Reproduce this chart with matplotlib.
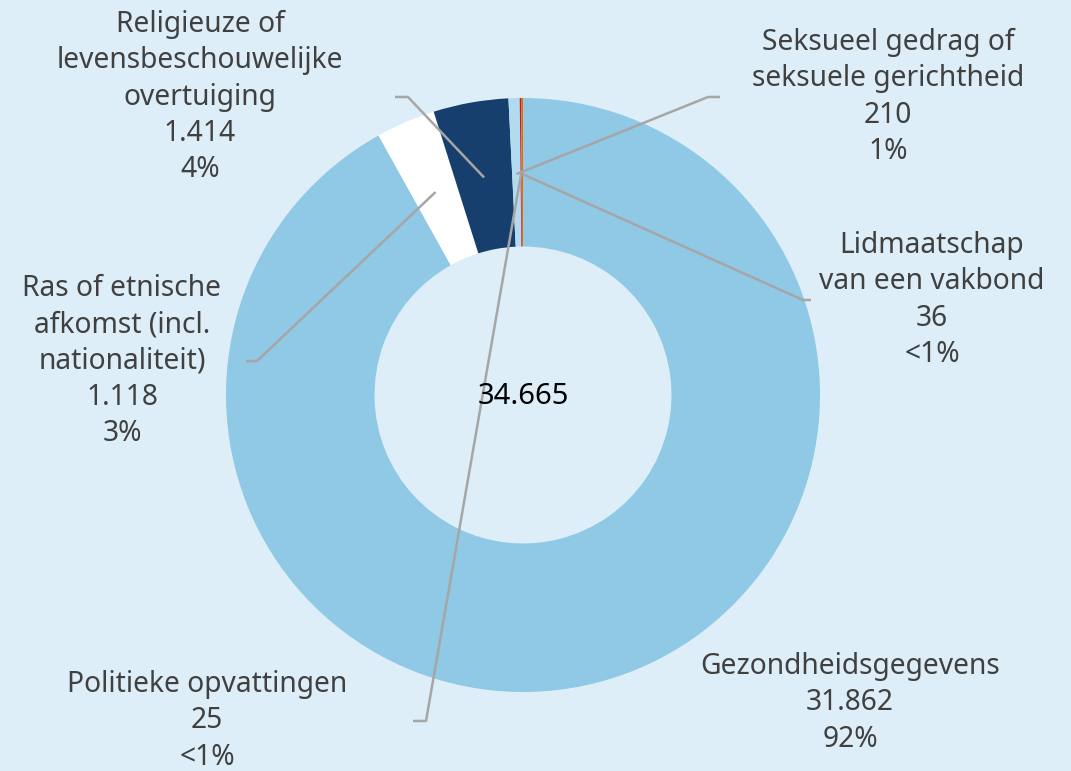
import numpy as np
import matplotlib.pyplot as plt

plt.rcParams['font.family'] = ['Noto Sans', 'DejaVu Sans']

# data (clockwise from the top)
categories = ['Gezondheidsgegevens', 'Ras of etnische\nafkomst (incl.\nnationaliteit)',
              'Religieuze of\nlevensbeschouwelijke\novertuiging',
              'Seksueel gedrag of\nseksuele gerichtheid',
              'Politieke opvattingen', 'Lidmaatschap\nvan een vakbond']
values = [31862, 1118, 1414, 210, 25, 36]
colors = ['#8fc9e6', '#ffffff', '#163f6e', '#b3dbef', '#c4163c', '#e17000']
total = sum(values)

bg = '#ddeef8'
txt = '#404040'
line_c = '#a6a6a6'

def fmt(n):
    return f'{n:,}'.replace(',', '.')

def pct(v):
    p = round(v / total * 100)
    return '<1%' if p == 0 else f'{p}%'

fig = plt.figure(figsize=(10.71, 7.71), dpi=100, facecolor=bg)
ax = fig.add_axes([0, 0, 1, 1])
ax.set_facecolor(bg)

cx, cy = 523, 771 - 395
R = 297
wedges, _ = ax.pie(values, colors=colors, startangle=90, counterclock=False,
                   center=(cx, cy), radius=R,
                   wedgeprops=dict(width=R * 0.5, linewidth=0))
ax.set_xlim(0, 1071)
ax.set_ylim(0, 771)
ax.axis('off')

# label placement: (text centre x, text centre y, elbow x, end x) in pixels
label_pos = {
    0: (850, 703, None, None),
    1: (122, 361, 257, 246),
    2: (200, 97, 408, 395),
    3: (888, 97, 708, 720),
    4: (207, 721, 426, 413),
    5: (932, 300, 803, 811),
}

cum = np.cumsum([0] + values)
for i, v in enumerate(values):
    tx, ty, ex, endx = label_pos[i]
    ax.text(tx, 771 - ty, f'{categories[i]}\n{fmt(v)}\n{pct(v)}', ha='center', va='center',
            fontsize=20.3, color=txt, linespacing=1.33)
    if ex is None:
        continue
    mid = (cum[i] + v / 2) / total
    ang = np.deg2rad(90 - mid * 360)
    ax0 = cx + 221 * np.cos(ang)
    ay0 = cy + 221 * np.sin(ang)
    ax.plot([ax0, ex, endx], [ay0, 771 - ty, 771 - ty], color=line_c, lw=1.8,
            solid_capstyle='butt', zorder=3)

ax.text(cx, cy - 2, fmt(total), ha='center', va='center', fontsize=21, color='black')

fig.savefig('out.png', dpi=100, facecolor=bg)
